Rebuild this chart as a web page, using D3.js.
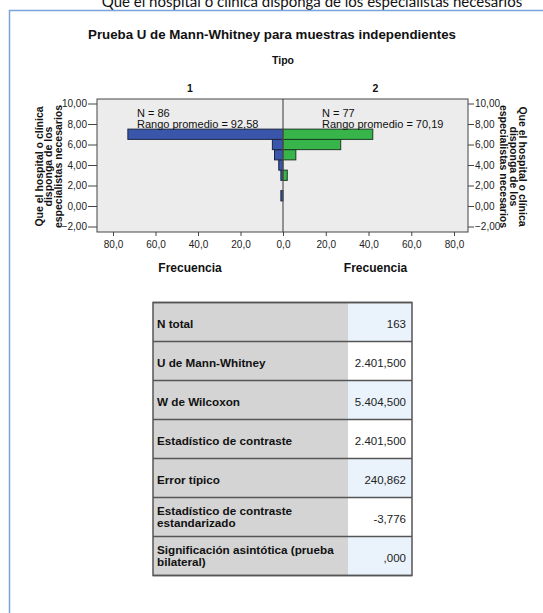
<!DOCTYPE html>
<html><head><meta charset="utf-8">
<script src="https://cdn.jsdelivr.net/npm/d3@7"></script>
<style>
html,body{margin:0;padding:0;background:#fff;}
svg{display:block;}
</style></head>
<body>
<script>
// ---- data ----
const binCenters = [1, 2, 3, 4, 5, 6, 7];
const group1Freq = [1, 0, 1, 2, 4, 5, 73];
const group2Freq = [0, 0, 2, 0, 6, 27, 42];
const groupNames = ["1", "2"];
const groupN = [86, 77];
const groupMeanRank = ["92,58", "70,19"];
const yTicks = [-2, 0, 2, 4, 6, 8, 10];
const xTicks = [0, 20, 40, 60, 80];
const statLabels = [["N total"], ["U de Mann-Whitney"], ["W de Wilcoxon"], ["Estadístico de contraste"], ["Error típico"], ["Estadístico de contraste", "estandarizado"], ["Significación asintótica (prueba", "bilateral)"]];
const statValues = ["163", "2.401,500", "5.404,500", "2.401,500", "240,862", "-3,776", ",000"];
const topTitle = "Que el hospital o clínica disponga de los especialistas necesarios";
const chartTitle = "Prueba U de Mann-Whitney para muestras independientes";
const yTitleLines = ["Que el hospital o clínica", "disponga de los", "especialistas necesarios"];

// ---- drawing ----
const W = 543, H = 613;
const svg = d3.select("body").append("svg").attr("width", W).attr("height", H);
const AR = "Liberation Sans, Arial, sans-serif";

svg.append("text").attr("x", 312).attr("y", 6.5).attr("text-anchor", "middle")
  .attr("font-family", "Lato, Carlito, sans-serif").attr("font-size", 15).attr("fill", "#111")
  .text(topTitle);

// frame
svg.append("path").attr("d", `M9.5,${H} V10.5 H${W}`).attr("fill", "none")
  .attr("stroke", "#7aa5dc").attr("stroke-width", 1.5);

svg.append("text").attr("x", 272).attr("y", 39).attr("text-anchor", "middle")
  .attr("font-family", AR).attr("font-weight", "bold").attr("font-size", 13.3).attr("fill", "#111").text(chartTitle);
svg.append("text").attr("x", 283).attr("y", 64).attr("text-anchor", "middle")
  .attr("font-family", AR).attr("font-weight", "bold").attr("font-size", 10.5).attr("fill", "#111").text("Tipo");

const plot = {left: 97, right: 468, top: 99, bottom: 232, mid: 283};
const y = d3.scaleLinear().domain([-2, 10]).range([226.5, 103.5]);
const xL = d3.scaleLinear().domain([0, 80]).range([plot.mid, 113]);
const xR = d3.scaleLinear().domain([0, 80]).range([plot.mid, 454]);

svg.append("rect").attr("x", plot.left).attr("y", plot.top)
  .attr("width", plot.right - plot.left).attr("height", plot.bottom - plot.top)
  .attr("fill", "#ececec");

groupNames.forEach((g, i) => {
  svg.append("text").attr("x", i === 0 ? (plot.left + plot.mid) / 2 : (plot.mid + plot.right) / 2)
    .attr("y", 92).attr("text-anchor", "middle").attr("font-family", AR)
    .attr("font-weight", "bold").attr("font-size", 10.5).attr("fill", "#111").text(g);
});

const fmtY = d => d3.format(".2f")(d).replace(".", ",");
const fmtX = d => d3.format(".1f")(d).replace(".", ",");

// bars
const d1 = binCenters.map((b, i) => ({b, f: group1Freq[i]})).filter(d => d.f > 0);
const d2 = binCenters.map((b, i) => ({b, f: group2Freq[i]})).filter(d => d.f > 0);
svg.append("g").selectAll("rect").data(d1).join("rect")
  .attr("x", d => xL(d.f)).attr("y", d => y(d.b + 0.5))
  .attr("width", d => xL(0) - xL(d.f)).attr("height", d => y(d.b - 0.5) - y(d.b + 0.5))
  .attr("fill", "#3a56ab").attr("stroke", "#1c2540").attr("stroke-width", 1);
svg.append("g").selectAll("rect").data(d2).join("rect")
  .attr("x", d => xR(0)).attr("y", d => y(d.b + 0.5))
  .attr("width", d => xR(d.f) - xR(0)).attr("height", d => y(d.b - 0.5) - y(d.b + 0.5))
  .attr("fill", "#37b54a").attr("stroke", "#1c3a20").attr("stroke-width", 1);

// center line
svg.append("line").attr("x1", plot.mid).attr("x2", plot.mid).attr("y1", plot.top).attr("y2", plot.bottom)
  .attr("stroke", "#555").attr("stroke-width", 1.2);

// plot border
svg.append("rect").attr("x", plot.left).attr("y", plot.top)
  .attr("width", plot.right - plot.left).attr("height", plot.bottom - plot.top)
  .attr("fill", "none").attr("stroke", "#444").attr("stroke-width", 1);

// annotations
[[0, 137], [1, 322]].forEach(([i, x]) => {
  const t = svg.append("text").attr("font-family", AR).attr("font-size", 11).attr("fill", "#111");
  t.append("tspan").attr("x", x).attr("y", 117).text(`N = ${groupN[i]}`);
  t.append("tspan").attr("x", x).attr("y", 127.5).text(`Rango promedio = ${groupMeanRank[i]}`);
});

function styleAxis(g) {
  g.selectAll("path").remove();
  g.selectAll("line").attr("stroke", "#444");
  g.selectAll("text").attr("font-family", AR).attr("font-size", 10).attr("fill", "#222");
}
svg.append("g").attr("transform", `translate(${plot.left},0)`)
  .call(d3.axisLeft(y).tickValues(yTicks).tickFormat(fmtY).tickSize(9).tickPadding(1)).call(styleAxis);
svg.append("g").attr("transform", `translate(${plot.right},0)`)
  .call(d3.axisRight(y).tickValues(yTicks).tickFormat(fmtY).tickSize(6).tickPadding(1)).call(styleAxis);
svg.append("g").attr("transform", `translate(0,${plot.bottom})`)
  .call(d3.axisBottom(xL).tickValues(xTicks).tickFormat(fmtX).tickSize(4).tickPadding(5)).call(styleAxis);
svg.append("g").attr("transform", `translate(0,${plot.bottom})`)
  .call(d3.axisBottom(xR).tickValues(xTicks.filter(d => d > 0)).tickFormat(fmtX).tickSize(4).tickPadding(5)).call(styleAxis);

// axis titles
[(plot.left + plot.mid) / 2, (plot.mid + plot.right) / 2].forEach(x => {
  svg.append("text").attr("x", x).attr("y", 272).attr("text-anchor", "middle")
    .attr("font-family", AR).attr("font-weight", "bold").attr("font-size", 12).attr("fill", "#111").text("Frecuencia");
});
const ymid = (plot.top + plot.bottom) / 2;
yTitleLines.forEach((l, i) => {
  svg.append("text").attr("transform", `translate(${42.5 + i * 9.5},${ymid + 1}) rotate(-90)`)
    .attr("text-anchor", "middle").attr("font-family", AR).attr("font-weight", "bold")
    .attr("font-size", 10.5).attr("fill", "#111").text(l);
  svg.append("text").attr("transform", `translate(${519 - i * 9.5},${ymid + 1}) rotate(90)`)
    .attr("text-anchor", "middle").attr("font-family", AR).attr("font-weight", "bold")
    .attr("font-size", 10.5).attr("fill", "#111").text(l);
});

// table
const tb = {left: 153, mid: 348, right: 412, top: 302.5, rowH: 39};
const rowY = d3.scaleLinear().domain([0, statValues.length]).range([tb.top, tb.top + tb.rowH * statValues.length]);
const rows = svg.append("g").selectAll("g").data(statValues).join("g");
rows.append("rect").attr("x", tb.left).attr("y", (d, i) => rowY(i)).attr("width", tb.mid - tb.left)
  .attr("height", tb.rowH).attr("fill", "#d4d4d4");
rows.append("rect").attr("x", tb.mid).attr("y", (d, i) => rowY(i)).attr("width", tb.right - tb.mid)
  .attr("height", tb.rowH).attr("fill", (d, i) => i % 2 === 0 ? "#eaf3fb" : "#ffffff");
rows.append("text").attr("x", tb.right - 6).attr("y", (d, i) => rowY(i) + 25.5).attr("text-anchor", "end")
  .attr("font-family", AR).attr("font-size", 11.5).attr("fill", "#222").text(d => d);
rows.each(function(d, i) {
  const lines = statLabels[i];
  const t = d3.select(this).append("text").attr("font-family", AR).attr("font-weight", "bold")
    .attr("font-size", 11.7).attr("fill", "#111");
  const base = lines.length === 1 ? rowY(i) + 25.5 : rowY(i) + 17.5;
  lines.forEach((l, k) => t.append("tspan").attr("x", 157).attr("y", base + k * 11.5).text(l));
});
// row lines
svg.append("g").selectAll("line").data(d3.range(statValues.length + 1)).join("line")
  .attr("x1", tb.left).attr("x2", tb.right).attr("y1", d => rowY(d)).attr("y2", d => rowY(d))
  .attr("stroke", "#555").attr("stroke-width", 1.5);
svg.append("rect").attr("x", tb.left).attr("y", tb.top).attr("width", tb.right - tb.left)
  .attr("height", tb.rowH * statValues.length).attr("fill", "none").attr("stroke", "#555").attr("stroke-width", 1.5);
</script>
</body></html>
